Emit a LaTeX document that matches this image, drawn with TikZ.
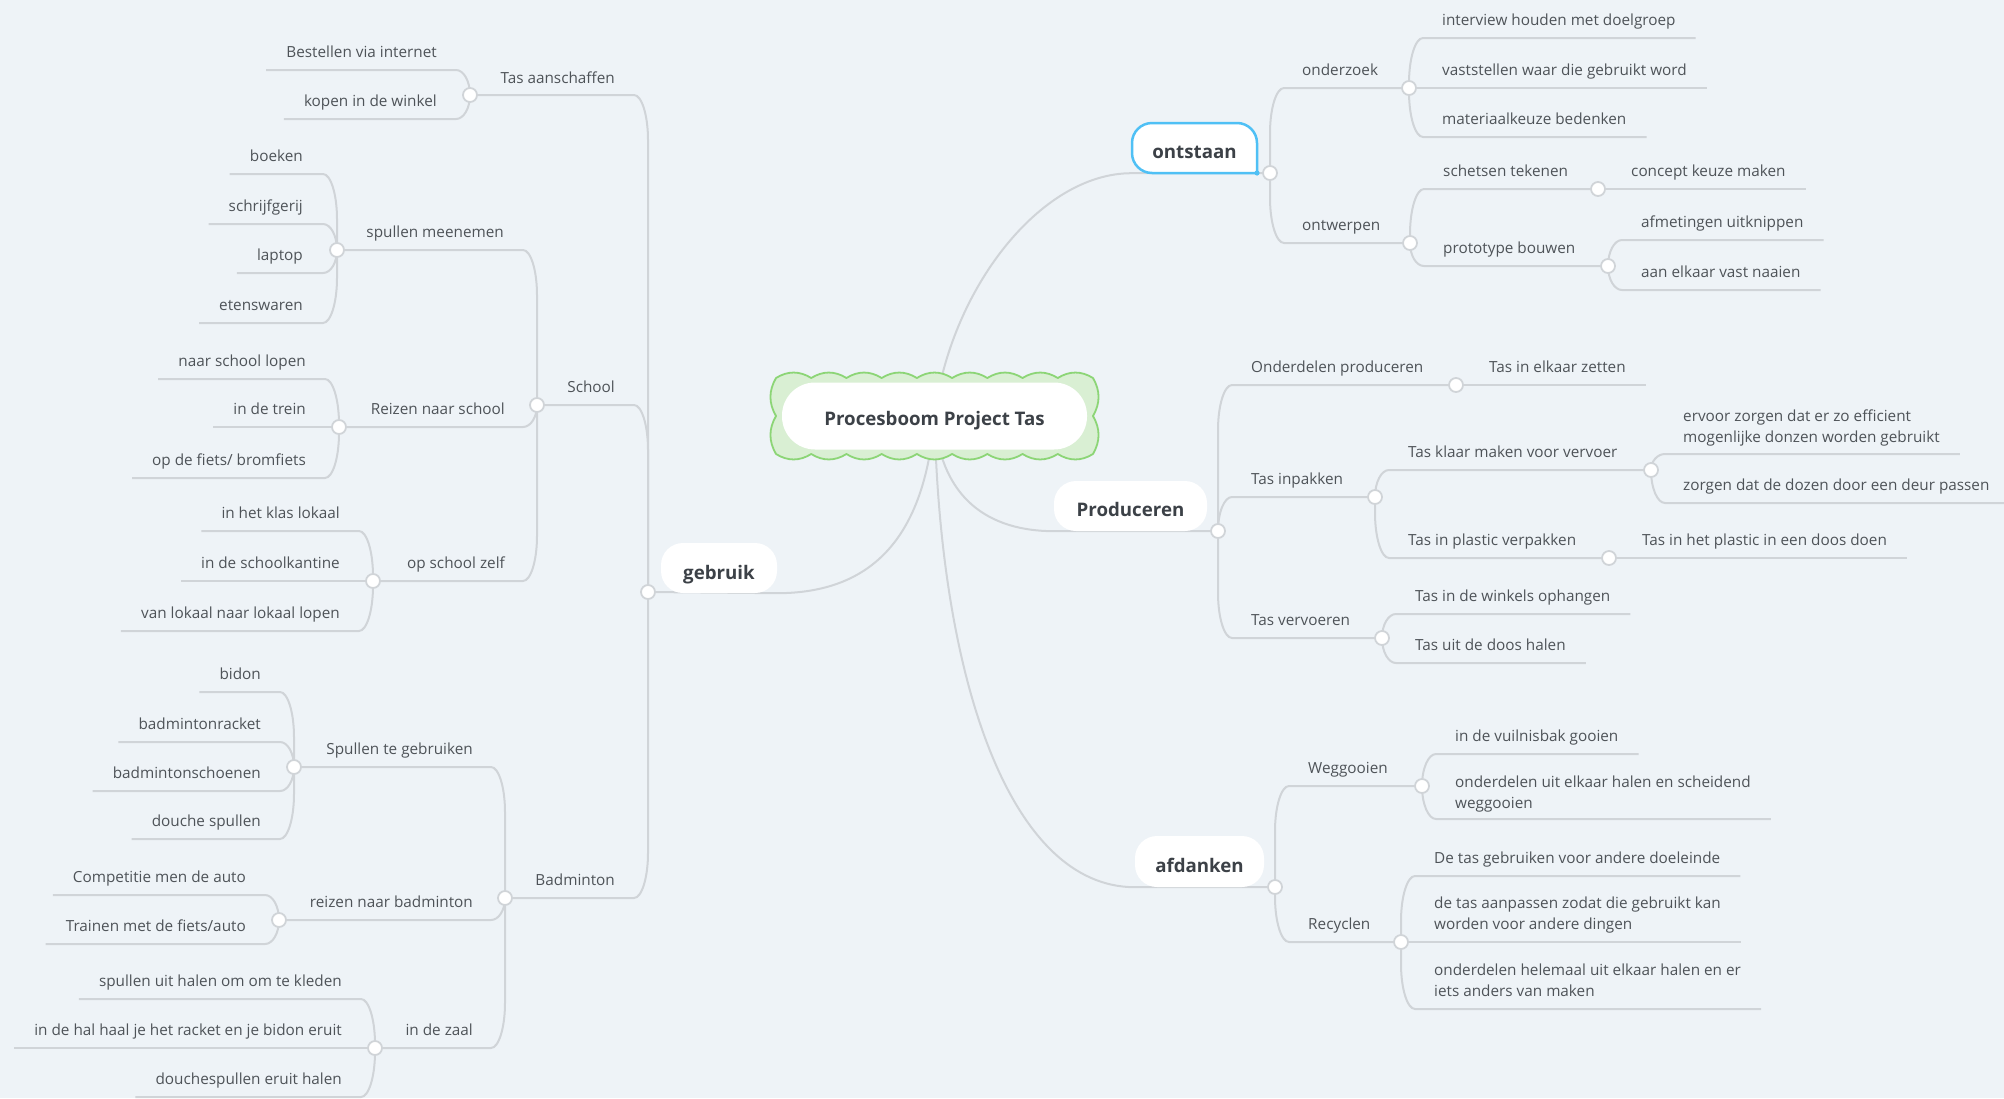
\documentclass[tikz,border=0pt]{standalone}
\usepackage{fontspec}
\setmainfont{Open Sans}
\usetikzlibrary{calc}
\definecolor{bgc}{RGB}{238,243,247}
\definecolor{linec}{RGB}{208,212,216}
\definecolor{txt}{RGB}{78,83,88}
\definecolor{btxt}{RGB}{60,65,71}
\definecolor{cloudd}{RGB}{140,213,118}
\definecolor{cloudf}{RGB}{217,239,211}
\definecolor{selb}{RGB}{79,192,245}
\pgfdeclarelayer{back}
\pgfdeclarelayer{lines}
\pgfsetlayers{back,lines,main}
\begin{document}
\begin{tikzpicture}[x=1pt,y=-1pt,
  lbl/.style={inner sep=0pt, text=txt, font=\fontsize{15.3}{21}\selectfont, yshift=-1.5pt},
  lblr/.style={lbl, anchor=base west},
  lbll/.style={lbl, anchor=base east},
  lblm/.style={lbl, anchor=west, align=left},
  branch/.style={draw=linec, line width=2pt, line join=round},
  dotc/.style={circle, draw=linec, fill=white, line width=1.8pt, minimum size=14pt, inner sep=0pt},
  mainbox/.style={fill=white, rounded corners=22pt, inner sep=0pt, text height=21pt, text depth=0pt, text=btxt, font=\fontsize{18.7}{22}\bfseries\selectfont},
  kid/.style={to path={let \p1=(\tikztostart), \p2=(\tikztotarget),
     \n2={(\x2>\x1) ? 1 : -1},
     \n3={(\y2>\y1) ? 1 : ((\y2<\y1) ? -1 : 0)},
     \n4={min(abs(\y2-\y1),45)} in
     -- (\x1,\y2-\n3*\n4) .. controls (\x1,\y2-\n3*\n4*0.45) and (\x1+\n2*6.3,\y2) .. (\x1+\n2*14,\y2) -- (\p2)}}
]
\useasboundingbox (0,0) rectangle (2004,1098);
\begin{pgfonlayer}{back}
\fill[bgc] (0,0) rectangle (2004,1098);
\end{pgfonlayer}

% central node
\filldraw[fill=cloudf, draw=cloudd, line width=1.8pt, line join=round] (776,378)
  \foreach \i in {1,...,9}{ to[bend left=32] ++(35.22,0)}
  \foreach \i in {1,2}{ to[bend left=30] ++(0,38)}
  \foreach \i in {1,...,9}{ to[bend left=32] ++(-35.22,0)}
  \foreach \i in {1,2}{ to[bend left=30] ++(0,-38)} -- cycle;
\node[mainbox, rounded corners=33pt, minimum width=305pt, minimum height=67pt, text height=19pt] (root) at (934.5,416) {Procesboom Project Tas};

% main topics
\fill[white, rounded corners=20pt] (1257,173) -- (1257,123) -- (1132,123) -- (1132,173) -- (1257,173);
\draw[selb, line width=2.5pt, rounded corners=20pt] (1257,173) -- (1257,123) -- (1132,123) -- (1132,173) -- (1257,173);
\fill[selb] (1257,173) circle (2.6);
\node[mainbox, fill=none, minimum width=125pt, minimum height=50pt] (ontB) at (1194.5,148) {ontstaan};
\node[mainbox, minimum width=153pt, minimum height=50pt] (prodB) at (1130.5,506) {Produceren};
\node[mainbox, minimum width=129pt, minimum height=51pt] (afdB) at (1199.5,861.5) {afdanken};
\node[mainbox, minimum width=116pt, minimum height=50pt, text height=22pt] (gebB) at (719,568) {gebruik};

% junctions
\coordinate (jOnt) at (1270,173);
\coordinate (jOnz) at (1409,88);
\coordinate (jOntw) at (1410,243);
\coordinate (jSch) at (1598,189);
\coordinate (jPro) at (1608,266);
\coordinate (jProd) at (1218,531);
\coordinate (jOdp) at (1456,385);
\coordinate (jInp) at (1375,497);
\coordinate (jKlr) at (1651,470);
\coordinate (jPla) at (1609,558);
\coordinate (jVrv) at (1382,638);
\coordinate (jAfd) at (1275,887);
\coordinate (jWeg) at (1422,786);
\coordinate (jRec) at (1401,942);
\coordinate (jGeb) at (648,592);
\coordinate (jTas) at (470,95);
\coordinate (jSchool) at (537,405);
\coordinate (jSpm) at (337,250);
\coordinate (jRns) at (339,427);
\coordinate (jOsz) at (373,581);
\coordinate (jBad) at (505,898);
\coordinate (jStg) at (294,767);
\coordinate (jRnb) at (279,920);
\coordinate (jIdz) at (375,1048);

% right: ontstaan
\node[lblr] (onz) at (1302,74) {onderzoek};
\node[lblr] (ontw) at (1302,229) {ontwerpen};
\node[lblr] (iv) at (1442,24) {interview houden met doelgroep};
\node[lblr] (vs) at (1442,74) {vaststellen waar die gebruikt word};
\node[lblr] (mk) at (1442,123) {materiaalkeuze bedenken};
\node[lblr] (st) at (1443,175) {schetsen tekenen};
\node[lblr] (pb) at (1443,252) {prototype bouwen};
\node[lblr] (ckm) at (1631,175) {concept keuze maken};
\node[lblr] (au) at (1641,226) {afmetingen uitknippen};
\node[lblr] (aev) at (1641,276) {aan elkaar vast naaien};
% right: Produceren
\node[lblr] (odp) at (1251,371) {Onderdelen produceren};
\node[lblr] (tez) at (1489,371) {Tas in elkaar zetten};
\node[lblr] (inp) at (1251,483) {Tas inpakken};
\node[lblr] (klr) at (1408,456) {Tas klaar maken voor vervoer};
\node[lblm] (evz) at (1683,426) {ervoor zorgen dat er zo efficient\\mogenlijke donzen worden gebruikt};
\node[lblr] (zdd) at (1683,489) {zorgen dat de dozen door een deur passen};
\node[lblr] (pla) at (1408,544) {Tas in plastic verpakken};
\node[lblr] (tpd) at (1642,544) {Tas in het plastic in een doos doen};
\node[lblr] (vrv) at (1251,624) {Tas vervoeren};
\node[lblr] (wko) at (1415,600) {Tas in de winkels ophangen};
\node[lblr] (udh) at (1415,649) {Tas uit de doos halen};
% right: afdanken
\node[lblr] (weg) at (1308,772) {Weggooien};
\node[lblr] (vbg) at (1455,740) {in de vuilnisbak gooien};
\node[lblm] (ueh) at (1455,793) {onderdelen uit elkaar halen en scheidend\\weggooien};
\node[lblr] (rec) at (1308,928) {Recyclen};
\node[lblr] (gad) at (1434,862) {De tas gebruiken voor andere doeleinde};
\node[lblm] (tap) at (1434,914) {de tas aanpassen zodat die gebruikt kan\\worden voor andere dingen};
\node[lblm] (ohu) at (1434,979) {onderdelen helemaal uit elkaar halen en er\\iets anders van maken};

% left: gebruik
\node[lbll] (tas) at (615,82) {Tas aanschaffen};
\node[lbll] (bvi) at (437,56) {Bestellen via internet};
\node[lbll] (kiw) at (437,105) {kopen in de winkel};
\node[lbll] (school) at (615,391) {School};
\node[lbll] (spm) at (504,236) {spullen meenemen};
\node[lbll] (boe) at (303,160) {boeken};
\node[lbll] (schr) at (303,210) {schrijfgerij};
\node[lbll] (lap) at (303,259) {laptop};
\node[lbll] (ete) at (303,309) {etenswaren};
\node[lbll] (rns) at (505,413) {Reizen naar school};
\node[lbll] (nsl) at (306,365) {naar school lopen};
\node[lbll] (idt) at (306,413) {in de trein};
\node[lbll] (odf) at (306,464) {op de fiets/ bromfiets};
\node[lbll] (osz) at (505,567) {op school zelf};
\node[lbll] (hkl) at (340,517) {in het klas lokaal};
\node[lbll] (isk) at (340,567) {in de schoolkantine};
\node[lbll] (vll) at (340,617) {van lokaal naar lokaal lopen};
\node[lbll] (bad) at (615,884) {Badminton};
\node[lbll] (stg) at (473,753) {Spullen te gebruiken};
\node[lbll] (bid) at (261,678) {bidon};
\node[lbll] (bdr) at (261,728) {badmintonracket};
\node[lbll] (bds) at (261,777) {badmintonschoenen};
\node[lbll] (dsp) at (261,825) {douche spullen};
\node[lbll] (rnb) at (473,906) {reizen naar badminton};
\node[lbll] (cmd) at (246,881) {Competitie men de auto};
\node[lbll] (tmf) at (246,930) {Trainen met de fiets/auto};
\node[lbll] (idz) at (473,1034) {in de zaal};
\node[lbll] (uhk) at (342,985) {spullen uit halen om om te kleden};
\node[lbll] (hrb) at (342,1034) {in de hal haal je het racket en je bidon eruit};
\node[lbll] (dhe) at (342,1083) {douchespullen eruit halen};

\begin{pgfonlayer}{lines}
% center to main topics
\draw[branch] (root.center) .. controls (950,290) and (1040,173) .. (ontB.south west) -- (jOnt);
\draw[branch] (root.center) .. controls (940,500) and (990,531) .. (prodB.south west) -- (jProd);
\draw[branch] (root.center) .. controls (940,680) and (1010,887) .. (afdB.south west) -- (jAfd);
\draw[branch] (root.center) .. controls (925,540) and (870,593) .. (gebB.south east) -- (jGeb);
% ontstaan
\draw[branch] (jOnt) to[kid] (jOnz);
\draw[branch] (jOnt) to[kid] (jOntw);
\draw[branch] (jOnz) to[kid] (iv.east |- 0,38) -- ++(20,0);
\draw[branch] (jOnz) to[kid] (vs.east |- 0,88) -- ++(20,0);
\draw[branch] (jOnz) to[kid] (mk.east |- 0,137) -- ++(20,0);
\draw[branch] (jOntw) to[kid] (jSch);
\draw[branch] (jOntw) to[kid] (jPro);
\draw[branch] (jSch) to[kid] (ckm.east |- 0,189) -- ++(20,0);
\draw[branch] (jPro) to[kid] (au.east |- 0,240) -- ++(20,0);
\draw[branch] (jPro) to[kid] (aev.east |- 0,290) -- ++(20,0);
% Produceren
\draw[branch] (jProd) to[kid] (jOdp);
\draw[branch] (jProd) to[kid] (jInp);
\draw[branch] (jProd) to[kid] (jVrv);
\draw[branch] (jOdp) to[kid] (tez.east |- 0,385) -- ++(20,0);
\draw[branch] (jInp) to[kid] (jKlr);
\draw[branch] (jInp) to[kid] (jPla);
\draw[branch] (jKlr) to[kid] (evz.east |- 0,454) -- ++(20,0);
\draw[branch] (jKlr) to[kid] (zdd.east |- 0,503) -- ++(20,0);
\draw[branch] (jPla) to[kid] (tpd.east |- 0,558) -- ++(20,0);
\draw[branch] (jVrv) to[kid] (wko.east |- 0,614) -- ++(20,0);
\draw[branch] (jVrv) to[kid] (udh.east |- 0,663) -- ++(20,0);
% afdanken
\draw[branch] (jAfd) to[kid] (jWeg);
\draw[branch] (jAfd) to[kid] (jRec);
\draw[branch] (jWeg) to[kid] (vbg.east |- 0,754) -- ++(20,0);
\draw[branch] (jWeg) to[kid] (ueh.east |- 0,819) -- ++(20,0);
\draw[branch] (jRec) to[kid] (gad.east |- 0,876) -- ++(20,0);
\draw[branch] (jRec) to[kid] (tap.east |- 0,942) -- ++(20,0);
\draw[branch] (jRec) to[kid] (ohu.east |- 0,1009) -- ++(20,0);
% gebruik
\draw[branch] (jGeb) to[kid] (jTas);
\draw[branch] (jGeb) to[kid] (jSchool);
\draw[branch] (jGeb) to[kid] (jBad);
\draw[branch] (jTas) to[kid] (bvi.west |- 0,70) -- ++(-20,0);
\draw[branch] (jTas) to[kid] (kiw.west |- 0,119) -- ++(-20,0);
\draw[branch] (jSchool) to[kid] (jSpm);
\draw[branch] (jSchool) to[kid] (jRns);
\draw[branch] (jSchool) to[kid] (jOsz);
\draw[branch] (jSpm) to[kid] (boe.west |- 0,174) -- ++(-20,0);
\draw[branch] (jSpm) to[kid] (schr.west |- 0,224) -- ++(-20,0);
\draw[branch] (jSpm) to[kid] (lap.west |- 0,273) -- ++(-20,0);
\draw[branch] (jSpm) to[kid] (ete.west |- 0,323) -- ++(-20,0);
\draw[branch] (jRns) to[kid] (nsl.west |- 0,379) -- ++(-20,0);
\draw[branch] (jRns) to[kid] (idt.west |- 0,427) -- ++(-20,0);
\draw[branch] (jRns) to[kid] (odf.west |- 0,478) -- ++(-20,0);
\draw[branch] (jOsz) to[kid] (hkl.west |- 0,531) -- ++(-20,0);
\draw[branch] (jOsz) to[kid] (isk.west |- 0,581) -- ++(-20,0);
\draw[branch] (jOsz) to[kid] (vll.west |- 0,631) -- ++(-20,0);
\draw[branch] (jBad) to[kid] (jStg);
\draw[branch] (jBad) to[kid] (jRnb);
\draw[branch] (jBad) to[kid] (jIdz);
\draw[branch] (jStg) to[kid] (bid.west |- 0,692) -- ++(-20,0);
\draw[branch] (jStg) to[kid] (bdr.west |- 0,742) -- ++(-20,0);
\draw[branch] (jStg) to[kid] (bds.west |- 0,791) -- ++(-20,0);
\draw[branch] (jStg) to[kid] (dsp.west |- 0,839) -- ++(-20,0);
\draw[branch] (jRnb) to[kid] (cmd.west |- 0,895) -- ++(-20,0);
\draw[branch] (jRnb) to[kid] (tmf.west |- 0,944) -- ++(-20,0);
\draw[branch] (jIdz) to[kid] (uhk.west |- 0,999) -- ++(-20,0);
\draw[branch] (jIdz) to[kid] (hrb.west |- 0,1048) -- ++(-20,0);
\draw[branch] (jIdz) to[kid] (dhe.west |- 0,1097) -- ++(-20,0);
\end{pgfonlayer}

% junction circles
\foreach \c in {jOnt,jOnz,jOntw,jSch,jPro,jProd,jOdp,jInp,jKlr,jPla,jVrv,jAfd,jWeg,jRec,jGeb,jTas,jSchool,jSpm,jRns,jOsz,jBad,jStg,jRnb,jIdz}
  \node[dotc] (\c-c) at (\c) {};
\end{tikzpicture}
\end{document}
